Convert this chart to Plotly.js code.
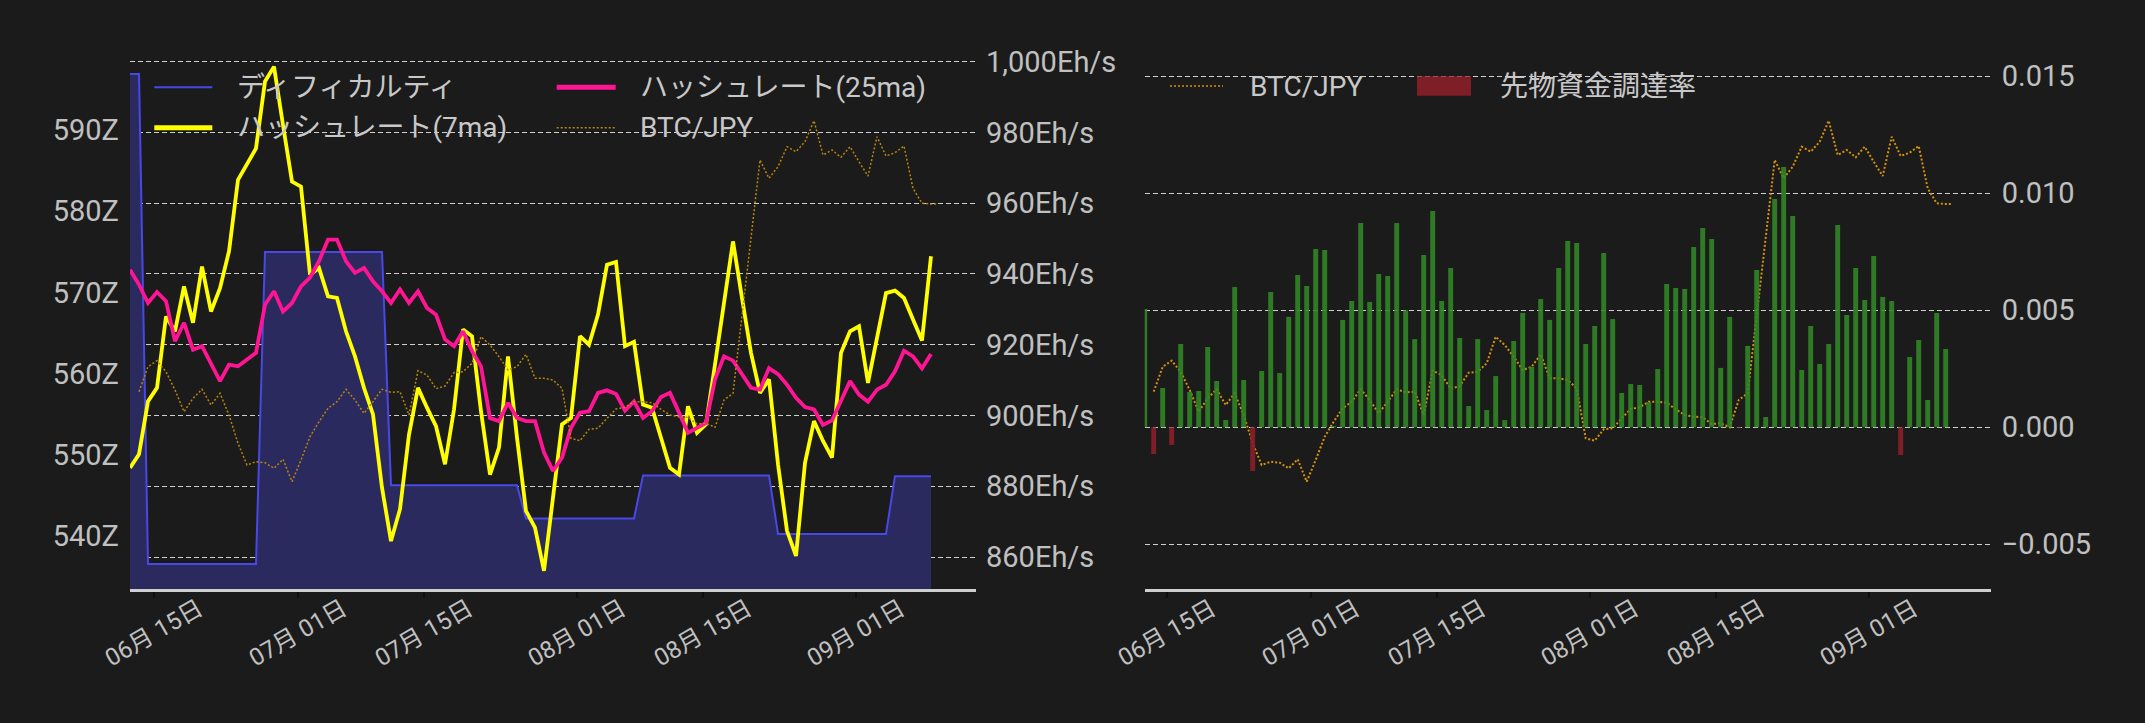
<!DOCTYPE html>
<html>
<head>
<meta charset="utf-8">
<script src="https://cdn.plot.ly/plotly-3.0.1.min.js"></script>
<style>
  body { margin: 0; background: #1b1b1b; }
  #chart { width: 2145px; height: 723px; }
</style>
</head>
<body>
<div id="chart"></div>
<script>
// daily series, 90 days starting 2025-06-12
var nDays = 90;

// difficulty (Z)
var difficulty = [
  596.9, 596.9, 536.6, 536.6, 536.6, 536.6, 536.6, 536.6, 536.6, 536.6,
  536.6, 536.6, 536.6, 536.6, 536.6, 575.0, 575.0, 575.0, 575.0, 575.0,
  575.0, 575.0, 575.0, 575.0, 575.0, 575.0, 575.0, 575.0, 575.0, 546.3,
  546.3, 546.3, 546.3, 546.3, 546.3, 546.3, 546.3, 546.3, 546.3, 546.3,
  546.3, 546.3, 546.3, 546.3, 542.2, 542.2, 542.2, 542.2, 542.2, 542.2,
  542.2, 542.2, 542.2, 542.2, 542.2, 542.2, 542.2, 547.5, 547.5, 547.5,
  547.5, 547.5, 547.5, 547.5, 547.5, 547.5, 547.5, 547.5, 547.5, 547.5,
  547.5, 547.5, 540.3, 540.3, 540.3, 540.3, 540.3, 540.3, 540.3, 540.3,
  540.3, 540.3, 540.3, 540.3, 540.3, 547.4, 547.4, 547.4, 547.4, 547.4
];

// hashrate 7 day moving average (Eh/s)
var hash7 = [
  885.2, 889.0, 904.0, 907.8, 928.0, 923.8, 936.5, 926.2, 942.1, 929.4,
  936.0, 946.4, 966.6, 970.8, 975.5, 994.4, 998.6, 982.1, 966.1, 964.7,
  939.8, 941.7, 933.7, 933.2, 923.8, 916.7, 907.8, 900.3, 879.6, 864.5,
  873.5, 894.6, 907.8, 902.2, 897.0, 886.2, 901.7, 924.3, 922.4, 901.2,
  883.3, 890.9, 916.7, 893.7, 873.0, 868.3, 856.1, 876.8, 897.5, 899.3,
  922.4, 920.0, 928.5, 942.6, 943.4, 919.6, 920.8, 903.1, 902.2, 893.7,
  885.2, 883.3, 902.6, 895.1, 897.5, 914.4, 931.8, 949.2, 933.2, 917.7,
  906.4, 910.2, 886.2, 867.4, 860.3, 886.6, 898.4, 892.8, 888.1, 917.7,
  923.8, 925.2, 909.2, 922.4, 934.6, 935.3, 933.2, 927.1, 921.2, 945.0
];

// hashrate 25 day moving average (Eh/s)
var hash25 = [
  941.2, 937.0, 931.8, 934.9, 932.3, 921.0, 926.2, 918.6, 919.6, 914.9,
  909.7, 914.4, 913.9, 915.8, 917.7, 931.3, 935.1, 929.4, 931.8, 936.5,
  939.0, 943.6, 949.7, 949.7, 943.6, 940.3, 941.7, 937.9, 935.1, 931.8,
  935.6, 931.8, 935.1, 930.4, 928.5, 921.5, 919.6, 923.8, 918.2, 913.9,
  899.3, 898.4, 903.6, 899.3, 898.4, 898.4, 889.5, 884.3, 888.1, 896.5,
  900.8, 901.2, 906.4, 907.1, 906.1, 901.4, 904.0, 899.3, 901.2, 905.2,
  906.4, 900.8, 895.1, 896.5, 897.9, 910.2, 916.7, 915.5, 911.5, 907.8,
  907.3, 913.4, 911.7, 908.7, 905.0, 902.4, 901.7, 897.3, 898.6, 904.0,
  909.7, 905.9, 903.9, 907.3, 908.7, 912.5, 918.3, 916.7, 913.3, 917.4
];

// BTC/JPY, from day 1, last value is the latest quote (0.75 day after day 89)
var btcJpy = [
  15973000, 16223000, 16283000, 16173000, 15990000, 15773000, 15907000, 15997000, 15840000,
  15957000, 15740000, 15457000, 15240000, 15273000, 15263000, 15207000, 15297000, 15073000,
  15290000, 15523000, 15673000, 15807000, 15873000, 15997000, 15890000, 15757000, 15873000,
  15997000, 15967000, 15973000, 15740000, 16183000, 16140000, 16003000, 16030000, 16163000,
  16173000, 16257000, 16523000, 16440000, 16323000, 16190000, 16223000, 16347000, 16107000,
  16107000, 16090000, 16007000, 15507000, 15483000, 15597000, 15607000, 15707000, 15800000,
  15817000, 15873000, 15873000, 15863000, 15797000, 15740000, 15723000, 15717000, 15650000,
  15657000, 15617000, 15890000, 15957000, 16740000, 17523000, 18290000, 18107000, 18223000,
  18423000, 18373000, 18473000, 18683000, 18340000, 18390000, 18317000, 18423000, 18273000,
  18130000, 18523000, 18330000, 18363000, 18430000, 18007000, 17857000, 17850000, 17850000
];

// funding rate
var funding = [
  0.00506, -0.00114, 0.00168, -0.00075, 0.00356, 0.00151, 0.00155, 0.00343, 0.00198, 0.00031,
  0.00600, 0.00202, -0.00187, 0.00241, 0.00578, 0.00232, 0.00472, 0.00651, 0.00604, 0.00762,
  0.00758, 0.00005, 0.00459, 0.00540, 0.00873, 0.00536, 0.00655, 0.00647, 0.00873, 0.00500,
  0.00377, 0.00736, 0.00924, 0.00540, 0.00681, 0.00382, 0.00091, 0.00377, 0.00074, 0.00219,
  0.00031, 0.00369, 0.00489, 0.00258, 0.00548, 0.00459, 0.00681, 0.00796, 0.00788, 0.00356,
  0.00433, 0.00745, 0.00463, 0.00147, 0.00185, 0.00181, 0.00108, 0.00249, 0.00613, 0.00595,
  0.00591, 0.00771, 0.00852, 0.00805, 0.00254, 0.00472, -0.00003, 0.00348, 0.00672, 0.00044,
  0.00976, 0.01113, 0.00903, 0.00245, 0.00433, 0.00271, 0.00356, 0.00865, 0.00480, 0.00681,
  0.00544, 0.00732, 0.00557, 0.00540, -0.00118, 0.00301, 0.00373, 0.00117, 0.00489, 0.00335
];

var tickDates = ['2025-06-15', '2025-07-01', '2025-07-15', '2025-08-01', '2025-08-15', '2025-09-01'];
var tickLabels = ['06月 15日', '07月 01日', '07月 15日', '08月 01日', '08月 15日', '09月 01日'];
var diffTicks = [540, 550, 560, 570, 580, 590];
var hashTicks = [860, 880, 900, 920, 940, 960, 980, 1000];
var fundTicks = [-0.005, 0, 0.005, 0.01, 0.015];

var W = 2145, H = 723;
var DAY = 864e5;
var leftStart = Date.UTC(2025, 5, 12, 8);
var rightStart = Date.UTC(2025, 5, 12, 13);

function fmt(t){
    return new Date(t).toISOString().slice(0, 16).replace('T', ' ');
}
function getDates(start, n){
    var d = [];
    for (let i = 0; i < n; i++){
        d.push(fmt(start + i * DAY));
    }
    return d;
}
function btcDates(start){
    var d = getDates(start, nDays).slice(1);
    d.push(fmt(start + (nDays - 0.25) * DAY)); // latest quote
    return d;
}
// pixel -> paper helpers for layout placement
function px(x){ return x / W; }
function py(y){ return 1 - y / H; }

var leftDates = getDates(leftStart, nDays);
var rightDates = getDates(rightStart, nDays);

var font = 'Roboto, "Noto Sans CJK JP", sans-serif';
var tickColor = '#c0c0c0';
var gridColor = '#cfcfcf';
var yDomain = [py(589), py(40)];

var traces = [];
traces.push({
    x: leftDates, y: difficulty, xaxis: 'x', yaxis: 'y',
    type: 'scatter', mode: 'lines', fill: 'tozeroy',
    fillcolor: '#2a2a5f', line: {color: '#4848e6', width: 2}
});
traces.push({
    x: leftDates, y: hash7, xaxis: 'x', yaxis: 'y2',
    type: 'scatter', mode: 'lines', line: {color: '#ffff00', width: 3.8}
});
traces.push({
    x: leftDates, y: hash25, xaxis: 'x', yaxis: 'y2',
    type: 'scatter', mode: 'lines', line: {color: '#ff1493', width: 3.8}
});
traces.push({
    x: btcDates(leftStart), y: btcJpy, xaxis: 'x', yaxis: 'y3',
    type: 'scatter', mode: 'lines', line: {color: '#b8860b', width: 1.5, dash: '2px,2px'}
});
traces.push({
    x: btcDates(rightStart), y: btcJpy, xaxis: 'x2', yaxis: 'y4',
    type: 'scatter', mode: 'lines', line: {color: '#d4920c', width: 2, dash: '2px,2px'}
});
traces.push({
    x: rightDates, y: funding, xaxis: 'x2', yaxis: 'y5',
    type: 'bar', width: 0.55 * DAY,
    marker: {color: funding.map(v => v >= 0 ? 'rgba(50,135,38,0.88)' : 'rgba(135,32,40,0.92)'), line: {width: 0}}
});

function xAxis(domain, start, yAnchor){
    return {
        type: 'date', domain: domain, anchor: yAnchor,
        range: [fmt(start), fmt(start + 94 * DAY)],
        showgrid: false, zeroline: false,
        showline: true, linecolor: '#cfcfcf', linewidth: 3,
        ticks: 'outside', ticklen: 6, tickcolor: '#0e0e0e', tickwidth: 1.5,
        tickvals: tickDates, showticklabels: false
    };
}

var btcRange = [14.0e6, 19.49e6];

var layout = {
    width: W, height: H,
    paper_bgcolor: '#1b1b1b', plot_bgcolor: '#1b1b1b',
    margin: {l: 0, r: 0, t: 0, b: 0},
    showlegend: false,
    font: {family: font, color: tickColor, size: 29},
    barmode: 'overlay',
    xaxis: xAxis([px(130), px(976)], leftStart, 'y'),
    xaxis2: xAxis([px(1144.7), px(1990.7)], rightStart, 'y4'),
    yaxis: {
        domain: yDomain, anchor: 'x', range: [533.52, 601.07],
        tickmode: 'array', tickvals: diffTicks, ticktext: diffTicks.map(v => v + 'Z'),
        showgrid: false, zeroline: false, ticks: '', ticklabelstandoff: 10,
        tickfont: {size: 29, color: tickColor}
    },
    yaxis2: {
        overlaying: 'y', side: 'right', anchor: 'x', range: [850.96, 1006.12],
        tickmode: 'array', tickvals: hashTicks,
        ticktext: hashTicks.map(v => v.toLocaleString('en-US') + 'Eh/s'),
        showgrid: true, gridcolor: gridColor, gridwidth: 1, griddash: '5px,3px',
        zeroline: false, ticks: '', ticklabelstandoff: 9,
        tickfont: {size: 29, color: tickColor}
    },
    yaxis3: {overlaying: 'y', anchor: 'x', range: btcRange, visible: false},
    yaxis4: {domain: yDomain, anchor: 'x2', range: btcRange, visible: false},
    yaxis5: {
        overlaying: 'y4', side: 'right', anchor: 'x2', range: [-0.006909, 0.016553],
        tickmode: 'array', tickvals: fundTicks,
        ticktext: fundTicks.map(v => (v < 0 ? '\u2212' : '') + Math.abs(v).toFixed(3)),
        showgrid: true, gridcolor: gridColor, gridwidth: 1, griddash: '5px,3px',
        zeroline: false, ticks: '', ticklabelstandoff: 10,
        tickfont: {size: 29, color: tickColor}
    },
    shapes: [],
    annotations: []
};

// rotated date labels centred on their ticks
['x', 'x2'].forEach(function(ax){
    for (let i = 0; i < tickDates.length; i++){
        layout.annotations.push({
            xref: ax, yref: 'paper', x: tickDates[i], y: py(633),
            text: tickLabels[i], showarrow: false, textangle: -30,
            xanchor: 'center', yanchor: 'middle',
            font: {size: 24, color: tickColor, family: font}
        });
    }
});

// legends
var legendItems = [
    {x0: 154.3, x1: 212.3, tx: 235, y: 87.3, text: 'ディフィカルティ', line: {color: '#4848e6', width: 2}},
    {x0: 556.7, x1: 615.7, tx: 638.3, y: 87.3, text: 'ハッシュレート(25ma)', line: {color: '#ff1493', width: 5}},
    {x0: 154.3, x1: 212.3, tx: 235, y: 127.7, text: 'ハッシュレート(7ma)', line: {color: '#ffff00', width: 5}},
    {x0: 556.7, x1: 615.7, tx: 638.3, y: 127.7, text: 'BTC/JPY', line: {color: '#b8860b', width: 1.5, dash: '2px,2px'}},
    {x0: 1170, x1: 1223, tx: 1248, y: 86, text: 'BTC/JPY', line: {color: '#d4920c', width: 1.5, dash: '2px,2px'}},
    {x0: 1417, x1: 1471, tx: 1498, y: 86, text: '先物資金調達率', box: 'rgba(135,32,40,0.92)'}
];
legendItems.forEach(function(it){
    if (it.box){
        layout.shapes.push({
            type: 'rect', xref: 'paper', yref: 'paper',
            x0: px(it.x0), x1: px(it.x1), y0: py(it.y + 9.7), y1: py(it.y - 9.7),
            fillcolor: it.box, line: {width: 0}
        });
    } else {
        layout.shapes.push({
            type: 'line', xref: 'paper', yref: 'paper',
            x0: px(it.x0), x1: px(it.x1), y0: py(it.y), y1: py(it.y), line: it.line
        });
    }
    layout.annotations.push({
        xref: 'paper', yref: 'paper', x: px(it.tx), y: py(it.y),
        text: it.text, showarrow: false, xanchor: 'left', yanchor: 'middle',
        font: {size: 28, color: '#c8c8c8', family: font}
    });
});

Plotly.newPlot('chart', traces, layout, {displayModeBar: false, staticPlot: true});
</script>
</body>
</html>
